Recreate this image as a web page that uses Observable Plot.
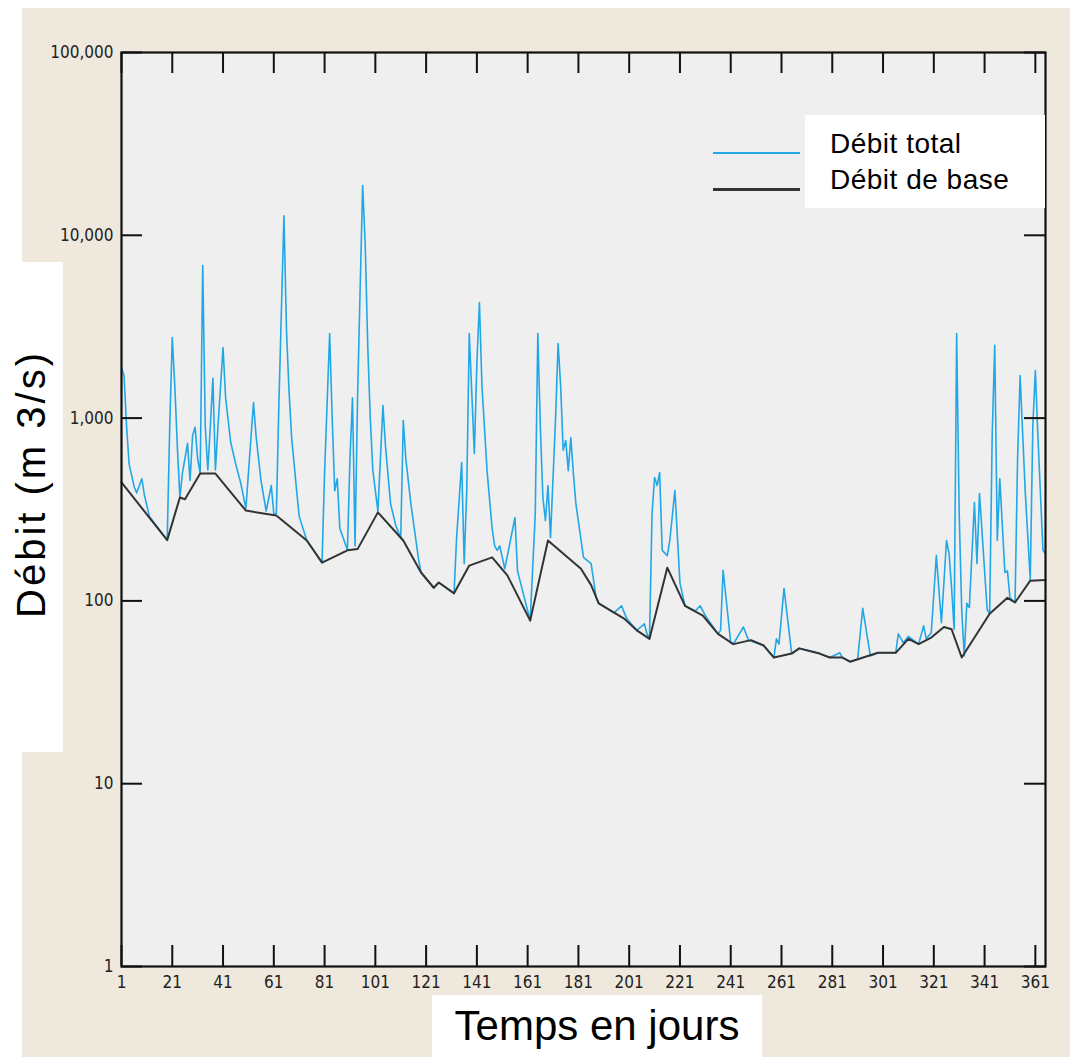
<!DOCTYPE html>
<html><head><meta charset="utf-8">
<script src="https://cdn.jsdelivr.net/npm/d3@7"></script>
<script src="https://cdn.jsdelivr.net/npm/@observablehq/plot@0.6"></script>
<style>
html,body{margin:0;padding:0;background:#fff;}
#wrap{position:relative;width:1070px;height:1057px;overflow:hidden;font-family:"Liberation Sans",Arial,sans-serif;color:#000;}
#beige{position:absolute;left:22px;top:8px;width:1048px;height:1049px;background:#efe8dd;}
#chart{position:absolute;left:0;top:0;}
.box{position:absolute;background:#fff;}
.sw{position:absolute;left:713px;width:87px;}
</style></head><body>
<div id="wrap">
  <div id="beige"></div>
  <div id="chart"></div>
  <div class="box" style="left:0;top:262px;width:63px;height:490px;">
    <div id="ylab" style="position:absolute;left:31px;top:222px;transform:translate(-50%,-50%) rotate(-90deg);white-space:nowrap;font-size:40px;letter-spacing:3px;"></div>
  </div>
  <div class="box" style="left:432px;top:995px;width:330px;height:62px;">
    <div id="xlab" style="position:absolute;left:0;right:0;top:7px;text-align:center;font-size:42px;white-space:nowrap;"></div>
  </div>
  <div class="sw" id="sw1" style="top:152px;height:2px;background:#22a7e6;"></div>
  <div class="sw" id="sw2" style="top:188px;height:2.5px;background:#333;"></div>
  <div class="box" style="left:805px;top:115px;width:240px;height:93px;">
    <div id="leg1" style="position:absolute;left:25px;top:13px;font-size:28px;letter-spacing:0.5px;white-space:nowrap;"></div>
    <div id="leg2" style="position:absolute;left:25px;top:49px;font-size:28px;letter-spacing:0.5px;white-space:nowrap;"></div>
  </div>
</div>
<script>
// ---- Data ----
const seriesNames = ["Débit total", "Débit de base"];
const yTitle = "Débit (m 3/s)";
const xTitle = "Temps en jours";
const xTicks = [1, 21, 41, 61, 81, 101, 121, 141, 161, 181, 201, 221, 241, 261, 281, 301, 321, 341, 361];
const yTicks = [1, 10, 100, 1000, 10000, 100000];

// Débit total: days and values (m3/s)
const totalDays = [1,2,3,4,6,7,9,10,12,19,20,21,22,23,24,25,27,28,29,30,31,32,33,34,35,36,37,38,39,41,42,44,46,48,50,53,54,56,58,60,61,62,63,65,66,67,68,70,71,74,80,81,83,84,85,86,87,90,91,92,93,94,95,96,97,98,99,100,102,103,104,105,107,109,111,112,113,115,118,119,124,126,132,133,135,136,137,138,140,141,142,143,145,147,148,149,150,152,156,157,162,164,165,166,167,168,169,170,172,173,174,175,176,177,178,179,180,183,186,188,189,195,198,200,204,207,208,209,210,211,212,213,214,216,217,219,221,223,227,229,231,236,237,238,241,242,246,248,254,258,259,260,262,265,268,276,280,284,285,288,291,293,296,299,306,307,309,311,315,317,318,320,322,324,326,327,328,329,330,331,332,333,334,335,337,338,339,342,343,344,345,346,347,349,350,351,353,354,355,357,359,360,361,362,364,365];
const totalFlow = [1890,1700,900,560,420,390,466,380,290,215,900,2760,1500,700,368,500,727,456,800,890,600,497,6840,900,520,900,1650,520,900,2430,1300,740,560,440,320,1217,800,450,310,428,300,300,1200,12800,3000,1400,790,400,290,214,162,500,2900,1000,400,466,250,190,600,1290,200,1300,5000,18700,9000,2500,1000,520,310,600,1170,700,340,260,220,970,600,340,170,143,118,126,110,220,572,160,400,2900,640,2000,4290,1500,516,250,200,189,200,150,286,146,78,300,2900,900,368,275,428,222,1000,2560,1500,668,754,516,783,500,340,173,160,104,97,86,94,80,69,75,66,62,300,473,428,503,189,177,214,402,125,94,88,94,83,66,69,147,59,58,72,61,57,49,62,58,117,51.5,55,51.5,49,52,49,46.5,48,91,50,52,52,66,59,64,58,73,62,67,177,76,214,182,118,70,2900,300,89,50,97,92,345,160,387,90,85,800,2500,214,466,143,146,104,98,600,1710,400,130,900,1820,800,189,182];

// Débit de base: days and values (m3/s)
const baseDays = [1,19,24,26,32,38,50,62,74,80,90,94,102,112,119,124,126,132,138,147,153,162,169,182,186,189,199,204,209,216,223,230,236,242,249,254,258,265,268,276,280,285,288,299,306,311,315,320,325,328,332,343,350,353,359,365];
const baseFlow = [445,215,368,360,497,497,312,293,214,162,189,192,305,214,143,118,126,110,156,173,138,78,214,150,122,97,80,69,62,152,94,83,66,58,61,57,49,51.5,55,51.5,49,49,46.5,52,52,62,58,63,72,70,49,85,104,98,129,130];

const totalData = totalDays.map((d, i) => ({day: d, q: totalFlow[i]}));
const baseData = baseDays.map((d, i) => ({day: d, q: baseFlow[i]}));

document.getElementById("ylab").textContent = yTitle;
document.getElementById("xlab").textContent = xTitle;
document.getElementById("leg1").textContent = seriesNames[0];
document.getElementById("leg2").textContent = seriesNames[1];

const W = 1070, H = 1057, mL = 121, mR = 25, mT = 52, mB = 91;
const pw = W - mL - mR, ph = H - mT - mB;
const tickLen = 21;

const chart = Plot.plot({
  width: W, height: H,
  marginLeft: mL, marginRight: mR, marginTop: mT, marginBottom: mB,
  style: {background: "transparent", fontFamily: "'Liberation Sans Narrow','DejaVu Sans Condensed','Liberation Sans',Arial,sans-serif", fontSize: "17px", color: "#222"},
  x: {domain: [1, 365]},
  y: {type: "log", domain: [1, 100000]},
  marks: [
    Plot.frame({fill: "#efefef", stroke: null}),
    Plot.line(totalData, {x: "day", y: "q", stroke: "#22a7e6", strokeWidth: 1.6}),
    Plot.line(baseData, {x: "day", y: "q", stroke: "#333", strokeWidth: 2}),
    Plot.tickX(xTicks, {x: d => d, insetTop: ph - tickLen, stroke: "#111", strokeWidth: 2}),
    Plot.tickX(xTicks, {x: d => d, insetBottom: ph - tickLen, stroke: "#111", strokeWidth: 2}),
    Plot.tickY(yTicks, {y: d => d, insetRight: pw - tickLen, stroke: "#111", strokeWidth: 2}),
    Plot.tickY(yTicks, {y: d => d, insetLeft: pw - tickLen, stroke: "#111", strokeWidth: 2}),
    Plot.frame({stroke: "#111", strokeWidth: 2.2}),
    Plot.axisX({ticks: xTicks, tickSize: 0, tickPadding: 9, label: null, tickFormat: d => String(d), fill: "#222"}),
    Plot.axisY({ticks: yTicks, tickSize: 0, tickPadding: 8, label: null, tickFormat: d3.format(","), fill: "#222"})
  ]
});
document.getElementById("chart").appendChild(chart);
</script>
</body></html>
